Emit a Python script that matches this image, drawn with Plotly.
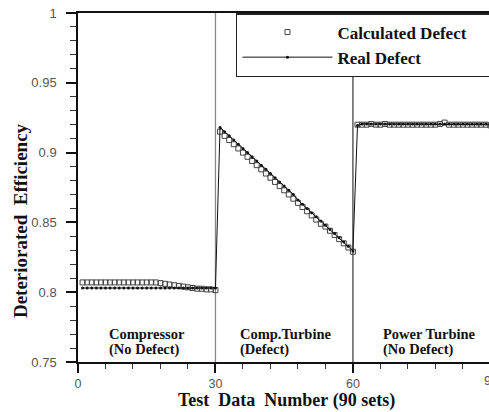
import plotly.graph_objects as go

# ---- data ----
x_idx = list(range(1, 91))

real_defect = (
    [0.803] * 30
    + [0.918, 0.915, 0.912, 0.909, 0.906, 0.903, 0.900, 0.897, 0.894, 0.891,
       0.888, 0.885, 0.882, 0.879, 0.876, 0.873, 0.870, 0.866, 0.863, 0.860,
       0.857, 0.854, 0.851, 0.848, 0.845, 0.842, 0.839, 0.836, 0.833, 0.8295]
    + [0.9195, 0.9205, 0.9205, 0.9205, 0.9205, 0.9205, 0.9205, 0.9205, 0.9205, 0.9205,
       0.9205, 0.9205, 0.9205, 0.9205, 0.9205, 0.9205, 0.9205, 0.9205, 0.9205, 0.9205,
       0.9205, 0.9205, 0.9205, 0.9205, 0.9205, 0.9205, 0.9205, 0.9205, 0.9205, 0.9200]
)

calc_defect = (
    [0.807, 0.807, 0.807, 0.807, 0.807, 0.807, 0.807, 0.807, 0.807, 0.807,
     0.807, 0.807, 0.807, 0.807, 0.807, 0.807, 0.807, 0.8065, 0.806, 0.8055,
     0.805, 0.8045, 0.804, 0.8035, 0.803, 0.8025, 0.8025, 0.802, 0.802, 0.8015]
    + [0.915, 0.912, 0.909, 0.906, 0.903, 0.900, 0.897, 0.894, 0.891, 0.888,
       0.885, 0.882, 0.879, 0.876, 0.873, 0.870, 0.867, 0.864, 0.861, 0.858,
       0.855, 0.852, 0.849, 0.847, 0.844, 0.841, 0.838, 0.835, 0.832, 0.829]
    + [0.920, 0.920, 0.920, 0.9205, 0.920, 0.920, 0.9205, 0.920, 0.920, 0.920,
       0.920, 0.920, 0.920, 0.920, 0.920, 0.920, 0.920, 0.920, 0.9205, 0.9215,
       0.920, 0.920, 0.920, 0.920, 0.920, 0.920, 0.920, 0.920, 0.920, 0.9195]
)

region_boundaries = [30, 60]
x_tickvals = [0, 30, 60]
y_tickvals = [0.75, 0.8, 0.85, 0.9, 0.95, 1]
y_ticktext = ["0.75", "0.8", "0.85", "0.9", "0.95", "1"]
region_labels = [
    (6.3, "Compressor", "(No Defect)"),
    (35.0, "Comp.Turbine", "(Defect)"),
    (66.1, "Power Turbine", "(No Defect)"),
]

SERIF = "Liberation Serif, Times New Roman, serif"
SANS = "Liberation Sans, Arial, sans-serif"

fig = go.Figure()
fig.add_trace(go.Scatter(
    x=x_idx, y=calc_defect, mode="markers",
    name="<b>Calculated Defect</b>\u00a0\u00a0\u00a0\u00a0\u00a0\u00a0",
    marker=dict(symbol="square-open", size=5, color="#444", line=dict(width=1)),
))
fig.add_trace(go.Scatter(
    x=x_idx, y=real_defect, mode="lines+markers", name="<b>Real Defect</b>",
    line=dict(color="#111", width=1),
    marker=dict(symbol="circle", size=3, color="#111"),
))

for i, xb in enumerate(region_boundaries):
    fig.add_shape(type="line", xref="x", yref="paper", x0=xb, x1=xb, y0=0, y1=1,
                  line=dict(color="#888" if i == 0 else "#444", width=1.3), layer="below")

for xl, l1, l2 in region_labels:
    fig.add_annotation(x=xl, y=0.7700, xref="x", yref="y", text="<b>%s</b>" % l1,
                       showarrow=False, xanchor="left", yanchor="middle",
                       font=dict(family=SERIF, size=14.5, color="#111"))
    fig.add_annotation(x=xl, y=0.7593, xref="x", yref="y", text="<b>%s</b>" % l2,
                       showarrow=False, xanchor="left", yanchor="middle",
                       font=dict(family=SERIF, size=14.5, color="#111"))

# cut-off "90" tick label beyond the window edge
fig.add_annotation(x=(490.5 - 78) / 411, y=0, xref="paper", yref="paper", text="90",
                   showarrow=False, xanchor="center", yanchor="top", yshift=-10,
                   font=dict(family=SANS, size=12.5, color="#555"))

fig.add_annotation(x=0.5085, y=-0.1095, xref="paper", yref="paper",
                   text="<b>Test\u00a0\u00a0Data\u00a0\u00a0Number\u00a0(90\u00a0sets)</b>",
                   showarrow=False, xanchor="center", yanchor="middle",
                   font=dict(family=SERIF, size=18, color="#111"))
fig.add_annotation(x=-0.141, y=0.404, xref="paper", yref="paper",
                   text="<b>Deteriorated\u00a0\u00a0Efficiency</b>", textangle=-90,
                   showarrow=False, xanchor="center", yanchor="middle",
                   font=dict(family=SERIF, size=19, color="#111"))

fig.update_layout(
    width=489, height=412,
    margin=dict(l=78, r=0, t=13, b=50, autoexpand=False),
    paper_bgcolor="white", plot_bgcolor="white",
    showlegend=True,
    legend=dict(x=0.3844, y=1, xanchor="left", yanchor="top",
                bgcolor="white", bordercolor="#222", borderwidth=1.5,
                itemwidth=90, traceorder="normal",
                font=dict(family=SERIF, size=17, color="#111")),
    xaxis=dict(range=[0, 89.7], tickvals=x_tickvals, ticks="outside", ticklen=9,
               tickwidth=1.5, tickcolor="#111", showline=True, linecolor="#111",
               linewidth=1.5, mirror=True, showgrid=False, zeroline=False,
               automargin=False,
               tickfont=dict(family=SANS, size=12.5, color="#555"),
               minor=dict(dtick=6, tick0=0, ticks="outside", ticklen=5,
                          tickcolor="#333", tickwidth=1, showgrid=False)),
    yaxis=dict(range=[0.75, 1], tickvals=y_tickvals, ticktext=y_ticktext,
               ticks="outside", ticklen=10, tickwidth=1.5, tickcolor="#111",
               showline=True, linecolor="#111", linewidth=1.5, mirror=False,
               showgrid=False, zeroline=False, ticklabelstandoff=7, automargin=False,
               tickfont=dict(family=SANS, size=13, color="#555"),
               minor=dict(dtick=0.01, tick0=0.75, ticks="outside", ticklen=6,
                          tickcolor="#333", tickwidth=1, showgrid=False)),
)

fig.write_html("out.html")
